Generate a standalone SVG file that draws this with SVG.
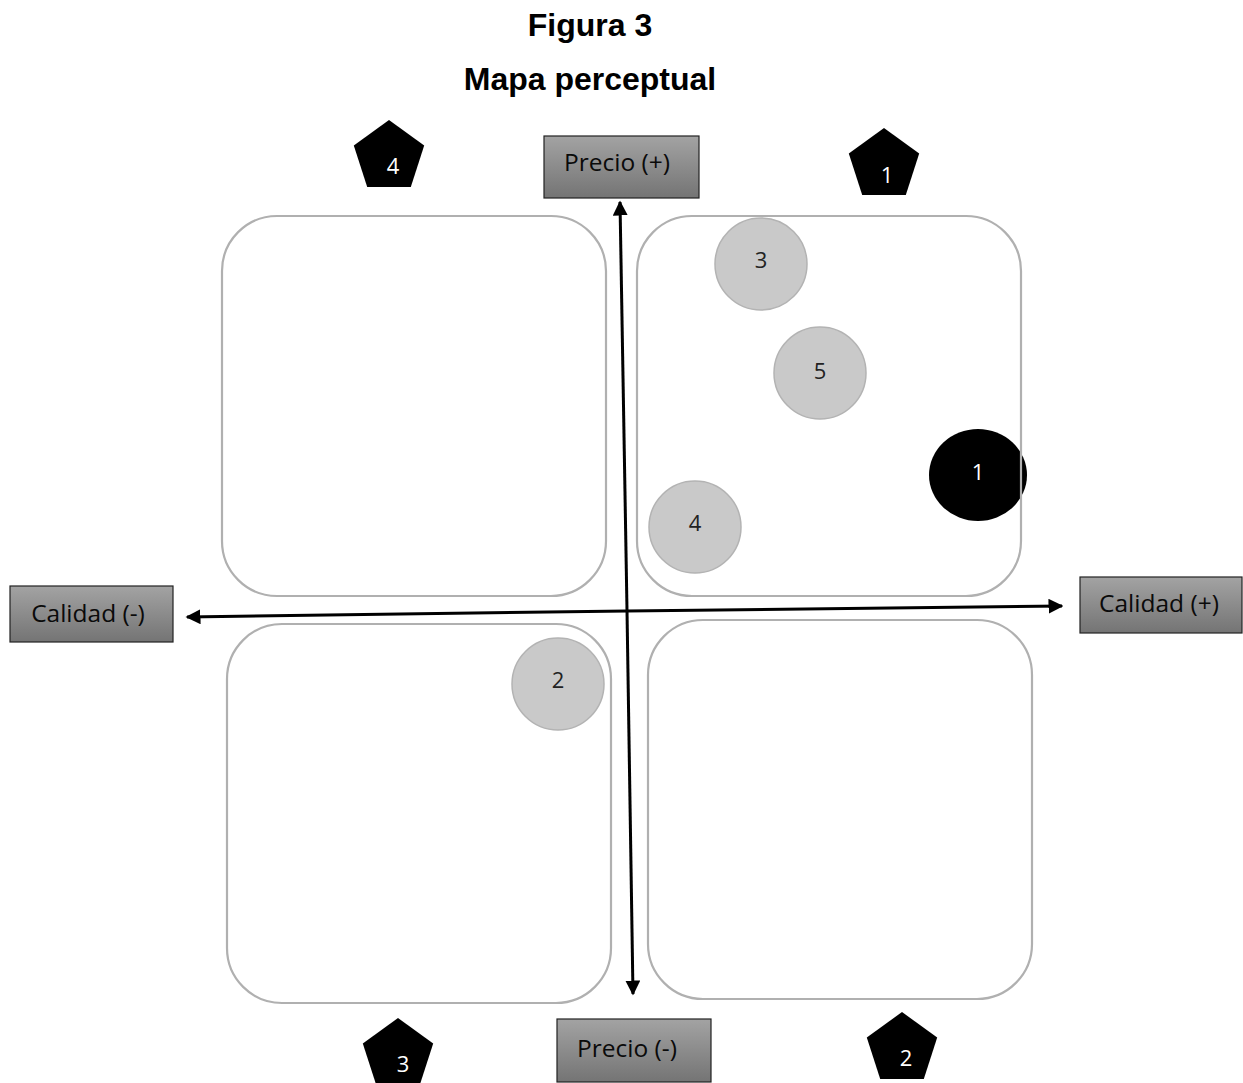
<svg xmlns="http://www.w3.org/2000/svg" width="1243" height="1083" viewBox="0 0 1243 1083">
<defs>
<linearGradient id="g" x1="0" y1="0" x2="0" y2="1">
<stop offset="0" stop-color="#a3a3a3"/>
<stop offset="1" stop-color="#747474"/>
</linearGradient>
<marker id="ah" viewBox="0 0 10 10" refX="9" refY="5" markerWidth="5" markerHeight="5" orient="auto-start-reverse" markerUnits="strokeWidth">
<path d="M0,0 L10,5 L0,10 z" fill="#000"/>
</marker>
<polygon id="pent" points="0,-37 35.2,-11.4 21.8,29.9 -21.8,29.9 -35.2,-11.4" fill="#000"/>
</defs>
<style>
.title{font-family:"Liberation Sans",Arial,sans-serif;font-weight:bold;font-size:32px;fill:#000;text-anchor:middle}
.quad{fill:none;stroke:#b0b0b0;stroke-width:2.2}
.lbl rect{fill:url(#g);stroke:#222;stroke-width:1.2}
.lbl text{font-family:"Open Sans","Noto Sans",sans-serif;font-size:24.5px;fill:#0a0a0a;text-anchor:middle}
.dot{fill:#c9c9c9;stroke:#b3b3b3;stroke-width:1.5}
.num{font-family:"Open Sans","Noto Sans",sans-serif;font-size:22px;text-anchor:middle}
.axis{stroke:#000;stroke-width:3;fill:none}
</style>
<rect width="1243" height="1083" fill="#fff"/>
<text class="title" x="590" y="36">Figura 3</text>
<text class="title" x="590" y="90">Mapa perceptual</text>

<g id="circle-1"><ellipse cx="978" cy="475" rx="49" ry="46" fill="#000"/><text class="num" x="978" y="480" fill="#fff">1</text></g>

<g id="quadrant-tl"><rect class="quad" x="222" y="216" width="384" height="380" rx="55"/></g>
<g id="quadrant-tr"><rect class="quad" x="637" y="216" width="384" height="380" rx="55"/></g>
<g id="quadrant-bl"><rect class="quad" x="227" y="624" width="384" height="379" rx="55"/></g>
<g id="quadrant-br"><rect class="quad" x="648" y="620" width="384" height="379" rx="55"/></g>

<g id="circle-3"><circle class="dot" cx="761" cy="264" r="46"/><text class="num" x="761" y="268" fill="#222">3</text></g>
<g id="circle-5"><circle class="dot" cx="820" cy="373" r="46"/><text class="num" x="820" y="379" fill="#222">5</text></g>
<g id="circle-4"><circle class="dot" cx="695" cy="527" r="46"/><text class="num" x="695" y="531" fill="#222">4</text></g>
<g id="circle-2"><circle class="dot" cx="558" cy="684" r="46"/><text class="num" x="558" y="688" fill="#222">2</text></g>

<g id="connectors">
<line class="axis" x1="627" y1="610" x2="620" y2="202" marker-end="url(#ah)"/>
<line class="axis" x1="627" y1="610" x2="633" y2="994" marker-end="url(#ah)"/>
<line class="axis" x1="627" y1="611" x2="187" y2="617" marker-end="url(#ah)"/>
<line class="axis" x1="627" y1="611" x2="1062" y2="606" marker-end="url(#ah)"/>
</g>

<g id="label-precio-plus" class="lbl"><rect x="544" y="136" width="155" height="62"/><text x="617" y="171">Precio (+)</text></g>
<g id="label-calidad-minus" class="lbl"><rect x="10" y="586" width="163" height="56"/><text x="88" y="622">Calidad (-)</text></g>
<g id="label-calidad-plus" class="lbl"><rect x="1080" y="577" width="162" height="56"/><text x="1159" y="612">Calidad (+)</text></g>
<g id="label-precio-minus" class="lbl"><rect x="557" y="1019" width="154" height="63"/><text x="627" y="1057">Precio (-)</text></g>

<g id="pentagon-4"><use href="#pent" x="389" y="157"/><text class="num" x="393" y="174" fill="#fff">4</text></g>
<g id="pentagon-1"><use href="#pent" x="884" y="165"/><text class="num" x="887" y="183" fill="#fff">1</text></g>
<g id="pentagon-3"><use href="#pent" x="398" y="1055"/><text class="num" x="403" y="1072" fill="#fff">3</text></g>
<g id="pentagon-2"><use href="#pent" x="902" y="1049"/><text class="num" x="906" y="1066" fill="#fff">2</text></g>
</svg>
